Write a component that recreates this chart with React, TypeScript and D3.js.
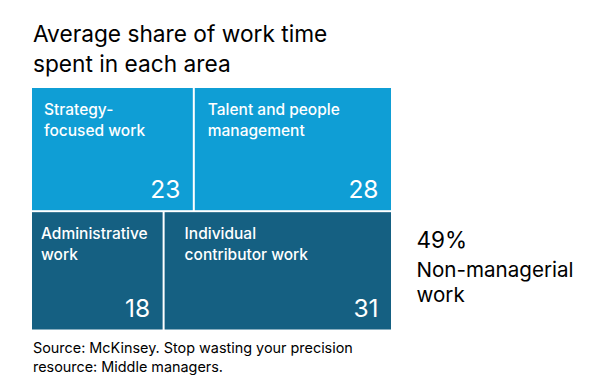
import React from "react";
import * as d3 from "d3";

const groups = ["Managerial", "Non-managerial"];
const categories = [
  ["Strategy-", "focused work"],
  ["Talent and people", "management"],
  ["Administrative", "work"],
  ["Individual", "contributor work"],
];
const categoryGroup = [0, 0, 1, 1];
const values = [23, 28, 18, 31];
const titleLines = ["Average share of work time", "spent in each area"];
const calloutValue = "49%";
const calloutLines = ["Non-managerial", "work"];
const sourceLines = ["Source: McKinsey. Stop wasting your precision", "resource: Middle managers."];

const W = 592;
const H = 387;
const groupColors = ["#0F9ED5", "#156082"];
const labelPadX = [12, 13, 9, 20];
const FONT = "Inter, 'Noto Sans', sans-serif";
const TX = 32;
const TY = 88;

type Leaf = { name: string[]; value: number; idx: number };

export default function App() {
  const data: any = {
    name: "root",
    children: groups.map((g, gi) => ({
      name: g,
      children: values
        .map((v, i) => ({ name: categories[i], value: v, idx: i }))
        .filter((d) => categoryGroup[d.idx] === gi),
    })),
  };

  const root = d3.hierarchy<any>(data).sum((d: any) => d.value || 0);

  d3
    .treemap<any>()
    .tile((node: any, x0: number, y0: number, x1: number, y1: number) => {
      if (node.depth === 0) d3.treemapSlice(node, x0, y0, x1, y1);
      else d3.treemapDice(node, x0, y0, x1, y1);
    })
    .size([359, 241.5])
    .paddingInner(2)
    .round(false)(root);

  const leaves = root.leaves() as any[];

  return (
    <svg
      width={W}
      height={H}
      style={{ position: "absolute", left: 0, top: 0, background: "#fff" }}
      fontFamily={FONT}
    >
      {titleLines.map((t, i) => (
        <text key={i} x={33} y={42 + i * 29.5} fontSize={22.7} fill="#000">
          {t}
        </text>
      ))}
      <g transform={`translate(${TX},${TY})`}>
        {leaves.map((leaf, k) => {
          const d = leaf.data as Leaf;
          const g = categoryGroup[d.idx];
          return (
            <g key={k}>
              <rect
                x={leaf.x0}
                y={leaf.y0}
                width={leaf.x1 - leaf.x0}
                height={leaf.y1 - leaf.y0}
                fill={groupColors[g]}
              />
              {d.name.map((line, li) => (
                <text
                  key={li}
                  x={leaf.x0 + labelPadX[d.idx]}
                  y={leaf.y0 + 26.5 + li * 21.5}
                  fontSize={15.5}
                  fontWeight={500}
                  fill="#fff"
                >
                  {line}
                </text>
              ))}
              <text
                x={leaf.x1 - 12.5}
                y={leaf.y1 - 12.3}
                fontSize={24.5}
                fill="#fff"
                textAnchor="end"
              >
                {d.value}
              </text>
            </g>
          );
        })}
      </g>
      <text x={416.5} y={247.7} fontSize={22.5} fill="#000">
        {calloutValue}
      </text>
      {calloutLines.map((t, i) => (
        <text key={i} x={416.5} y={276.7 + i * 25.6} fontSize={20.6} fill="#000">
          {t}
        </text>
      ))}
      {sourceLines.map((t, i) => (
        <text key={i} x={33} y={352.5 + i * 19} fontSize={14.4} fill="#000">
          {t}
        </text>
      ))}
    </svg>
  );
}
